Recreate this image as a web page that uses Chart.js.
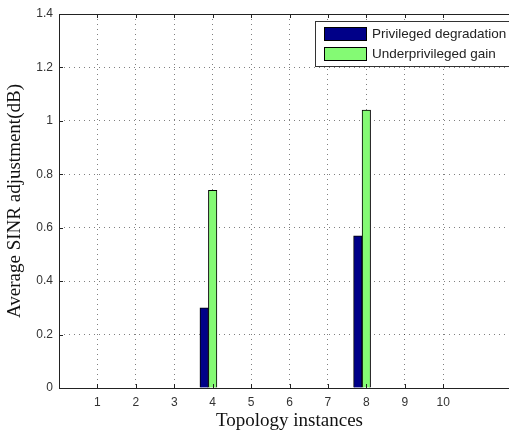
<!DOCTYPE html>
<html>
<head>
<meta charset="utf-8">
<script src="https://cdn.jsdelivr.net/npm/chart.js@4/dist/chart.umd.min.js"></script>
<style>
  html, body { margin:0; padding:0; background:#fff; overflow:hidden; }
  #wrap { width:509px; height:432px; overflow:hidden; position:relative; }
  canvas { display:block; }
</style>
</head>
<body>
<div id="wrap"><canvas id="c" width="540" height="432" style="width:540px;height:432px"></canvas></div>
<script>
// ---- data ----
const instances = [1, 2, 3, 4, 5, 6, 7, 8, 9, 10];
const privilegedDegradation = [0, 0, 0, 0.30, 0, 0, 0, 0.57, 0, 0];
const underprivilegedGain   = [0, 0, 0, 0.74, 0, 0, 0, 1.04, 0, 0];
const seriesLabels = ['Privileged degradation', 'Underprivileged gain'];
const xTicks = [1, 2, 3, 4, 5, 6, 7, 8, 9, 10];
const yTicks = [0, 0.2, 0.4, 0.6, 0.8, 1.0, 1.2, 1.4];
const yTickLabels = ['0', '0.2', '0.4', '0.6', '0.8', '1', '1.2', '1.4'];
const xTitle = 'Topology instances';
const yTitle = 'Average SINR adjustment(dB)';

// ---- style ----
const X_MIN = 0, X_MAX = 12;
const BAR_SHIFT = 0.221;          // group offset of first series (axis units)
const colors = ['#000088', '#84fa74'];
const axisColor = '#222';
const tickFont = { family: 'Liberation Sans, Arial, sans-serif', size: 12 };
const titleFont = { family: 'Liberation Serif, Times New Roman, serif', size: 19 };

const frameAndLegend = {
  id: 'frameAndLegend',
  afterDraw(chart) {
    const { ctx, chartArea: a, scales } = chart;
    ctx.save();
    ctx.strokeStyle = axisColor;
    ctx.lineWidth = 1;
    ctx.setLineDash([]);
    ctx.strokeRect(a.left + 0.5, a.top + 0.5, a.right - a.left, a.bottom - a.top);
    ctx.beginPath();
    scales.x.ticks.forEach(t => {
      const p = Math.round(scales.x.getPixelForValue(t.value)) + 0.5;
      ctx.moveTo(p, a.bottom); ctx.lineTo(p, a.bottom - 4);
      ctx.moveTo(p, a.top); ctx.lineTo(p, a.top + 4);
    });
    scales.y.ticks.forEach(t => {
      const p = Math.round(scales.y.getPixelForValue(t.value)) + 0.5;
      ctx.moveTo(a.left, p); ctx.lineTo(a.left + 4, p);
      ctx.moveTo(a.right, p); ctx.lineTo(a.right - 4, p);
    });
    ctx.stroke();

    // legend box (inside axes, top-right)
    const lx = 315.5, ly = 21.5, lw = 210, lh = 45;
    ctx.fillStyle = '#fff';
    ctx.fillRect(lx, ly, lw, lh);
    ctx.strokeStyle = '#333';
    ctx.strokeRect(lx, ly, lw, lh);
    ctx.font = '13.5px "Liberation Sans", Arial, sans-serif';
    ctx.textBaseline = 'middle';
    chart.data.datasets.forEach((ds, i) => {
      const sy = 27 + i * 20;
      ctx.fillStyle = ds.backgroundColor;
      ctx.fillRect(324, sy, 43, 14);
      ctx.strokeStyle = '#000';
      ctx.strokeRect(324.5, sy + 0.5, 42, 13);
      ctx.fillStyle = '#222';
      ctx.fillText(ds.label, 372, sy + 7.5);
    });
    ctx.restore();
  }
};

const gridCommon = { color: 'rgba(0,0,0,0.5)', lineWidth: 1, drawTicks: false };

new Chart(document.getElementById('c'), {
  type: 'bar',
  data: {
    datasets: [
      {
        label: seriesLabels[0],
        data: instances.map((x, i) => ({ x, y: privilegedDegradation[i] })),
        backgroundColor: colors[0],
        borderColor: '#000',
        borderWidth: 1,
        borderSkipped: 'start',
        barThickness: 8.5,
        grouped: false,
        xAxisID: 'xb'
      },
      {
        label: seriesLabels[1],
        data: instances.map((x, i) => ({ x, y: underprivilegedGain[i] })),
        backgroundColor: colors[1],
        borderColor: '#000',
        borderWidth: 1,
        borderSkipped: 'start',
        barThickness: 8.5,
        grouped: false,
        xAxisID: 'x'
      }
    ]
  },
  options: {
    responsive: false,
    animation: false,
    devicePixelRatio: 1,
    layout: { padding: { left: 0, top: 14, right: 20, bottom: 0 } },
    plugins: { legend: { display: false }, tooltip: { enabled: false } },
    scales: {
      x: {
        type: 'linear',
        min: X_MIN, max: X_MAX,
        offset: false,
        afterBuildTicks: s => { s.ticks = xTicks.map(v => ({ value: v })); },
        afterFit: s => { s.height = 44; },
        grid: { ...gridCommon, offset: false },
        border: { display: false, dash: [1, 4] },
        ticks: { font: tickFont, color: '#333', padding: 7, maxRotation: 0, autoSkip: false },
        title: { display: true, text: xTitle, font: titleFont, color: '#111', padding: { top: 0, bottom: 0 } }
      },
      xb: {
        type: 'linear',
        display: false,
        min: X_MIN + BAR_SHIFT, max: X_MAX + BAR_SHIFT,
        offset: false
      },
      y: {
        min: 0, max: 1.4,
        afterBuildTicks: s => { s.ticks = yTicks.map(v => ({ value: v })); },
        afterFit: s => { s.width = 59; },
        grid: gridCommon,
        border: { display: false, dash: [1, 4] },
        ticks: { font: tickFont, color: '#333', padding: 6,
                 callback: (v, i) => yTickLabels[i] },
        title: { display: true, text: yTitle, font: titleFont, color: '#111', padding: { top: 4, bottom: 0 } }
      }
    }
  },
  plugins: [frameAndLegend]
});
</script>
</body>
</html>
